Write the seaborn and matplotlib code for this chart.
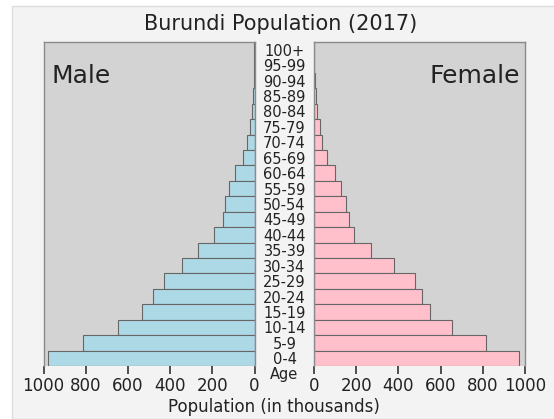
import matplotlib
matplotlib.use("Agg")
import matplotlib.pyplot as plt
import numpy as np
import pandas as pd
import seaborn as sns
from matplotlib.patches import Rectangle

AGE_GROUPS = [
    "0-4", "5-9", "10-14", "15-19", "20-24", "25-29", "30-34", "35-39",
    "40-44", "45-49", "50-54", "55-59", "60-64", "65-69", "70-74", "75-79",
    "80-84", "85-89", "90-94", "95-99", "100+",
]
# population in thousands
MALE = [979, 815, 645, 531, 482, 427, 344, 266, 192, 151, 139, 120,
        93, 56, 34, 21, 13, 6, 2, 0.5, 0.1]
FEMALE = [971, 816, 655, 549, 513, 478, 381, 271, 191, 168, 152, 130,
          101, 62, 38, 27, 16, 9, 3, 0.7, 0.1]
X_TICKS = [0, 200, 400, 600, 800, 1000]

W, H = 554, 419
BAR_EDGE = "#666666"
TEXT = "#222222"

df = pd.DataFrame({"age": AGE_GROUPS, "male": MALE, "female": FEMALE})
order = AGE_GROUPS[::-1]  # seaborn puts the first category on top

fig = plt.figure(figsize=(W / 100, H / 100), dpi=100, facecolor="white")
fig.patches.append(Rectangle((12 / W, 0), 1, (H - 6) / H, transform=fig.transFigure,
                             facecolor="#f3f3f3", edgecolor="#dddddd", lw=1, zorder=-1))

ax_m = fig.add_axes([43.5 / W, (H - 366) / H, 211 / W, 324 / H])
ax_f = fig.add_axes([314 / W, (H - 366) / H, 211 / W, 324 / H])

sns.barplot(data=df, x="male", y="age", order=order, orient="h", ax=ax_m,
            color="#add8e6", saturation=1, width=1, edgecolor=BAR_EDGE, linewidth=0.8)
sns.barplot(data=df, x="female", y="age", order=order, orient="h", ax=ax_f,
            color="#ffc0cb", saturation=1, width=1, edgecolor=BAR_EDGE, linewidth=0.8)

for ax in (ax_m, ax_f):
    ax.set_facecolor("#d3d3d3")
    ax.set_xticks(X_TICKS)
    ax.set_xticklabels([str(t) for t in X_TICKS], fontsize=12, color=TEXT)
    ax.tick_params(axis="x", length=6, width=1.2, color="#333333", pad=2)
    ax.set_xlabel("")
    ax.set_ylabel("")
    for sp in ax.spines.values():
        sp.set_color("#8a8a8a")
        sp.set_linewidth(1.0)
    ax.spines["bottom"].set_visible(False)

ax_m.set_xlim(1000, 0)
ax_f.set_xlim(0, 1000)

ax_m.tick_params(axis="y", left=False, labelleft=False)
ax_f.tick_params(axis="y", left=False, length=0, pad=21.2, labelsize=10.5, labelcolor=TEXT)
for lbl in ax_f.get_yticklabels():
    lbl.set_horizontalalignment("center")

ax_m.text(0.04, 0.873, "Male", transform=ax_m.transAxes, fontsize=18, color=TEXT,
          ha="left", va="baseline")
ax_f.text(0.976, 0.873, "Female", transform=ax_f.transAxes, fontsize=18, color=TEXT,
          ha="right", va="baseline")

fig.text(284.5 / W, (H - 374) / H, "Age", ha="center", va="center", fontsize=10.5, color=TEXT)
fig.text(281 / W, (H - 24) / H, "Burundi Population (2017)", ha="center", va="center",
         fontsize=15, color=TEXT)
fig.text(274 / W, (H - 407) / H, "Population (in thousands)", ha="center", va="center",
         fontsize=12, color=TEXT)

fig.savefig("out.png", dpi=100, facecolor=fig.get_facecolor())
